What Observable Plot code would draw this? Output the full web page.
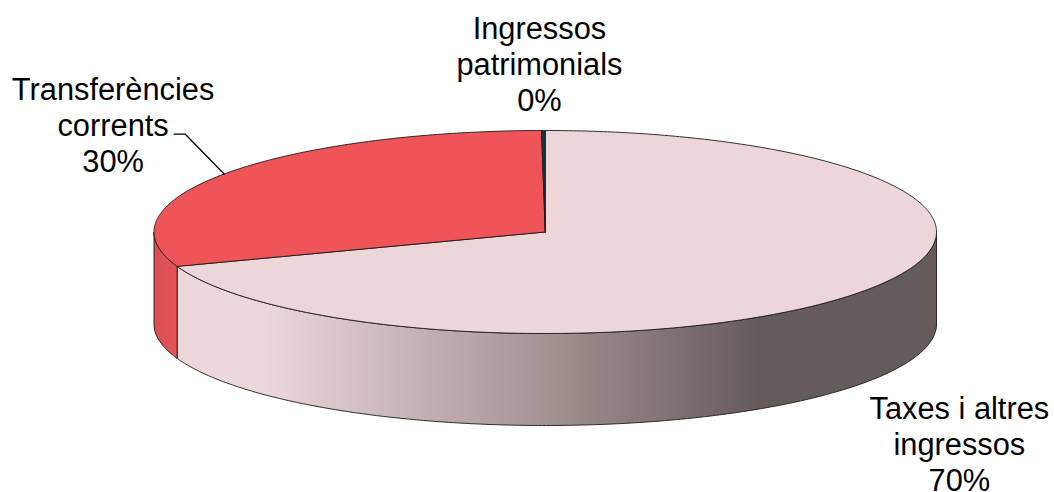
<!DOCTYPE html>
<html>
<head>
<meta charset="utf-8">
<style>html,body{margin:0;padding:0;background:#fff}svg{display:block}</style>
<script src="https://cdn.jsdelivr.net/npm/d3@7"></script>
<script src="https://cdn.jsdelivr.net/npm/@observablehq/plot@0.6"></script>
</head>
<body>
<script>
const categories = ["Taxes i altres\ningressos", "Transferències\ncorrents", "Ingressos\npatrimonials"];
const shares = [69.5, 30.35, 0.15];
const sliceColors = ["#ecd6d7", "#ef5558", "#0c3c50"];
const sideColors = ["url(#sideShade)", "url(#sideRed)", "#0c3c50"];
const labelOffsets = [[94, 153], [-111, -49.5], [-4, -67]];
const shadeStops = [[176, "#ecd7d9"], [262, "#ecd7d9"], [510, "#ad9c9b"], [760, "#655b59"], [937, "#655b59"]];
const redStops = [[153, "#da5052"], [177, "#e75356"]];

const W = 1054, H = 492;
const left = 153.5, right = 936, top_ = 130, bottom = 333, depthPx = 92;
const x = d3.scaleLinear([-1, 1], [left, right]);
const y = d3.scaleLinear([-1, 1], [bottom, top_]);
const depth = depthPx / ((bottom - top_) / 2);

// Clockwise from 12 o'clock, as in the original chart
const total = d3.sum(shares);
let acc = 0;
const slices = shares.map((v, i) => {
  const a0 = acc / total * 2 * Math.PI;
  acc += v;
  const a1 = acc / total * 2 * Math.PI;
  return {i, a0, a1, mid: (a0 + a1) / 2};
});
const pt = (a, dz = 0) => ({x: Math.sin(a), y: Math.cos(a) - dz});
const arc = (a0, a1, dz = 0) => {
  const n = Math.max(2, Math.ceil(Math.abs(a1 - a0) / 0.01));
  return d3.range(n + 1).map(k => pt(a0 + (a1 - a0) * k / n, dz));
};

const marks = [];
const lineOpts = {x: "x", y: "y", strokeWidth: 0.9, stroke: "#1a1a1a", strokeLinejoin: "round"};

// Defs for the side shading
marks.push(() => {
  const defs = d3.create("svg:defs");
  const add = (id, stops) => {
    const x0 = stops[0][0], x1 = stops[stops.length - 1][0];
    const g = defs.append("linearGradient").attr("id", id)
      .attr("gradientUnits", "userSpaceOnUse")
      .attr("x1", x0).attr("x2", x1).attr("y1", 0).attr("y2", 0);
    for (const [p, c] of stops) {
      g.append("stop").attr("offset", (p - x0) / (x1 - x0)).attr("stop-color", c);
    }
  };
  add("sideShade", shadeStops);
  add("sideRed", redStops);
  return defs.node();
});

// Visible side walls: the front half of the disc (angles from 90° to 270° clockwise)
slices.forEach(s => {
  const a0 = Math.max(s.a0, Math.PI / 2), a1 = Math.min(s.a1, 1.5 * Math.PI);
  if (a1 <= a0) return;
  const wall = [...arc(a0, a1), ...arc(a1, a0, depth)];
  wall.push(wall[0]);
  marks.push(Plot.line(wall, {...lineOpts, fill: sideColors[s.i]}));
});

// Top faces
slices.forEach(s => {
  const face = [{x: 0, y: 0}, ...arc(s.a0, s.a1), {x: 0, y: 0}];
  marks.push(Plot.line(face, {...lineOpts, fill: sliceColors[s.i]}));
});

// Leader line for the Transferències label, from the rim of its slice
const anchor = pt(slices[1].mid);
const px = (p, dx, dy) => ({x: x.invert(x(p.x) + dx), y: y.invert(y(p.y) + dy)});
marks.push(Plot.line([anchor, px(anchor, -39, -40), px(anchor, -50, -40)],
  {x: "x", y: "y", stroke: "#000", strokeWidth: 1.3}));

// Labels
slices.forEach(s => {
  const label = `${categories[s.i]}\n${Math.round(shares[s.i])}%`;
  const p = pt(s.mid);
  marks.push(Plot.text([label], {
    x: () => p.x, y: () => p.y, text: d => d,
    dx: labelOffsets[s.i][0], dy: labelOffsets[s.i][1],
    fontFamily: "Liberation Sans", fontSize: 30.8, lineHeight: 1.16, fill: "#000"
  }));
});

const chart = Plot.plot({
  width: W, height: H,
  margin: 0,
  x: {domain: x.domain(), range: x.range(), axis: null},
  y: {domain: y.domain(), range: y.range(), axis: null},
  style: {background: "#fff"},
  marks
});
document.body.appendChild(chart);
</script>
</body>
</html>
